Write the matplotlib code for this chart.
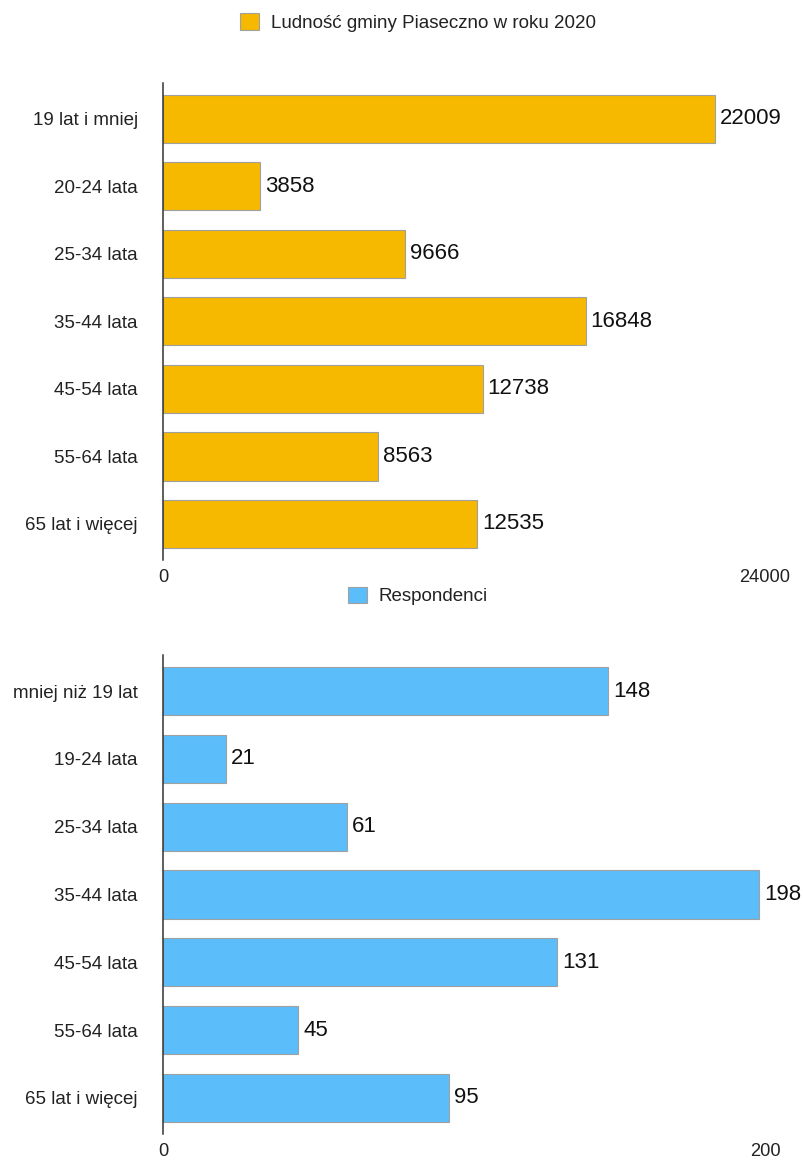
import numpy as np
import matplotlib
matplotlib.use('Agg')
import matplotlib.pyplot as plt
from matplotlib import font_manager

# data
groups_pop = ['19 lat i mniej', '20-24 lata', '25-34 lata', '35-44 lata',
              '45-54 lata', '55-64 lata', '65 lat i więcej']
pop_2020 = [22009, 3858, 9666, 16848, 12738, 8563, 12535]
pop_label = 'Ludność gminy Piaseczno w roku 2020'
pop_xticks = [0, 24000]

groups_resp = ['mniej niż 19 lat', '19-24 lata', '25-34 lata', '35-44 lata',
               '45-54 lata', '55-64 lata', '65 lat i więcej']
respondents = [148, 21, 61, 198, 131, 45, 95]
resp_label = 'Respondenci'
resp_xticks = [0, 200]

# narrow sans looks closest to the squeezed text of the original
names = {f.name for f in font_manager.fontManager.ttflist}
if 'Liberation Sans Narrow' in names:
    fam, k = 'Liberation Sans Narrow', 1.0
else:
    fam, k = 'Liberation Sans', 0.82
plt.rcParams['font.family'] = [fam, 'DejaVu Sans']
plt.rcParams['text.color'] = '#222222'

W, H = 804, 1161
fig = plt.figure(figsize=(W / 100, H / 100), dpi=100)


def panel(top, bottom, cats, vals, ticks, color, label, leg_y):
    ax = fig.add_axes([163 / W, 1 - bottom / H, 602 / W, (bottom - top) / H])
    y = np.arange(len(cats))
    bars = ax.barh(y, vals, height=0.715, color=color,
                   edgecolor='#a0a0a0', linewidth=0.8, label=label)
    ax.set_ylim(len(cats) - 1 + 0.535, -0.535)
    ax.set_xlim(ticks[0], ticks[-1])
    ax.set_yticks(y, cats)
    ax.set_xticks(ticks, [str(t) for t in ticks])
    ax.tick_params(axis='y', length=0, pad=18, labelsize=16.5 * k,
                   labelcolor='#222222')
    ax.tick_params(axis='x', length=0, pad=6.5, labelsize=16 * k,
                   labelcolor='#222222')
    for s in ['top', 'right', 'bottom']:
        ax.spines[s].set_visible(False)
    ax.spines['left'].set_color('#333333')
    ax.spines['left'].set_linewidth(1.1)
    ax.bar_label(bars, padding=3.5, fontsize=19.5 * k, color='#111111')
    fig.legend(handles=[bars], labels=[label], loc='center',
               bbox_to_anchor=(418 / W, 1 - leg_y / H), frameon=False,
               fontsize=16.5 * k, handlelength=0.81 / k, handleheight=0.81 / k,
               handletextpad=0.52 / k, borderpad=0)
    return ax


ax_pop = panel(82.7, 560, groups_pop, pop_2020, pop_xticks,
               '#F6B900', pop_label, 22.4)
ax_resp = panel(655, 1134, groups_resp, respondents, resp_xticks,
                '#5BBEFA', resp_label, 596)

fig.savefig('out.png', dpi=100)
